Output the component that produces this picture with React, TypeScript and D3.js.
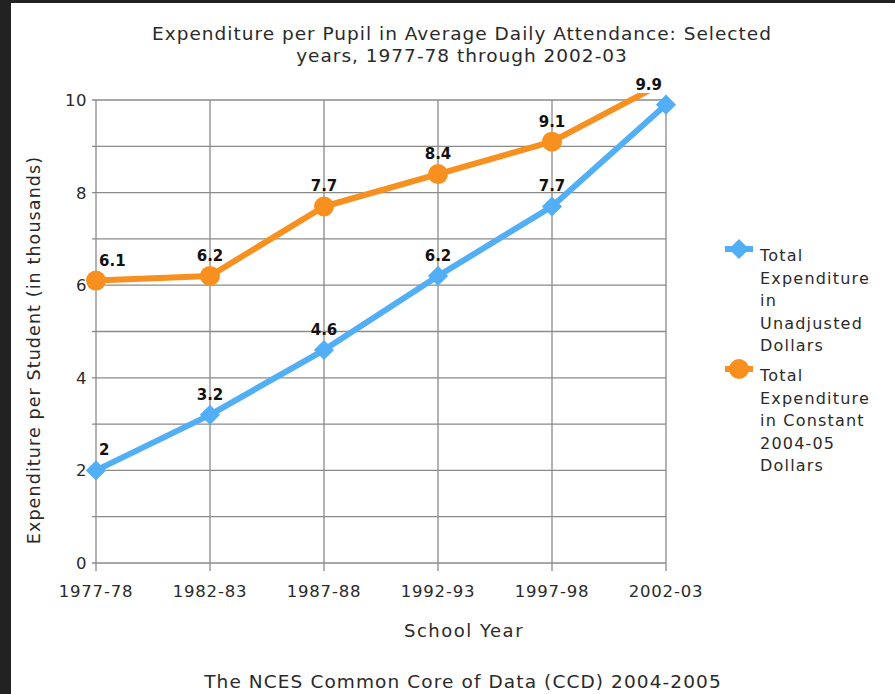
import React, { useEffect } from "react";
import * as d3 from "d3";

const categories = ["1977-78", "1982-83", "1987-88", "1992-93", "1997-98", "2002-03"];
const unadjusted = [2, 3.2, 4.6, 6.2, 7.7, 9.9];
const constant = [6.1, 6.2, 7.7, 8.4, 9.1, 10.4];
const constantLabels = ["6.1", "6.2", "7.7", "8.4", "9.1", ""];
const unadjustedLabels = ["2", "3.2", "4.6", "6.2", "7.7", "9.9"];
const yTickLabels = [0, 2, 4, 6, 8, 10];
const yGrid = [0, 1, 2, 3, 4, 5, 6, 7, 8, 9, 10];
const titleLines = ["Expenditure per Pupil in Average Daily Attendance: Selected", "years, 1977-78 through 2002-03"];
const legendBlue = ["Total", "Expenditure", "in", "Unadjusted", "Dollars"];
const legendOrange = ["Total", "Expenditure", "in Constant", "2004-05", "Dollars"];

const W = 895, H = 694;
const BLUE = "#52aff5";
const ORANGE = "#f7901e";
const FONT = "'DejaVu Sans', sans-serif";
const TXT = "#2a2a2a";

export default function App() {
  useEffect(() => { document.body.style.margin = "0"; }, []);
  const x = d3.scalePoint<string>().domain(categories).range([96, 666]);
  const y = d3.scaleLinear().domain([0, 10]).range([563, 100]);
  const line = d3.line<number>().x((_, i) => x(categories[i])!).y(d => y(d));
  const diamond = d3.symbol().type(d3.symbolDiamond2).size(260);
  const last = categories.length - 1;
  const labelX = (i: number) => i === 0 ? x(categories[i])! + 3 : i === last ? x(categories[i])! - 4 : x(categories[i])!;
  const anchor = (i: number) => i === 0 ? "start" : i === last ? "end" : "middle";

  return (
    <svg width={W} height={H} style={{ display: "block" }} fontFamily={FONT}>
      <rect x={0} y={0} width={W} height={H} fill="#222" />
      <rect x={11} y={3} width={W - 11} height={H - 3} fill="#fff" />
      <defs>
        <clipPath id="plotclip"><rect x={0} y={93} width={W} height={H} /></clipPath>
      </defs>
      {titleLines.map((t, i) => (
        <text key={t} x={462} y={40 + i * 22} textAnchor="middle" fontSize={18.5} letterSpacing={1} fill={TXT}>{t}</text>
      ))}
      {/* grid */}
      {yGrid.map(v => (
        <line key={"h" + v} x1={92} x2={666} y1={y(v)} y2={y(v)} stroke="#8a8a8a" strokeWidth={1.3} />
      ))}
      {categories.map(c => (
        <line key={"v" + c} x1={x(c)} x2={x(c)} y1={y(10)} y2={y(0) + 8} stroke="#8a8a8a" strokeWidth={1.3} />
      ))}
      {yTickLabels.map(v => (
        <text key={"yt" + v} x={87} y={y(v) + 6} textAnchor="end" fontSize={16.5} letterSpacing={0.5} fill={TXT}>{v}</text>
      ))}
      {categories.map(c => (
        <text key={"xt" + c} x={x(c)} y={597} textAnchor="middle" fontSize={16.5} letterSpacing={0.8} fill={TXT}>{c}</text>
      ))}
      <text x={464} y={637} textAnchor="middle" fontSize={18} letterSpacing={1.5} fill={TXT}>School Year</text>
      <text transform={`translate(40,350) rotate(-90)`} textAnchor="middle" fontSize={17.5} letterSpacing={1.1} fill={TXT}>Expenditure per Student (in thousands)</text>
      <text x={463} y={688} textAnchor="middle" fontSize={18.5} letterSpacing={1.1} fill={TXT}>The NCES Common Core of Data (CCD) 2004-2005</text>
      {/* series */}
      <g clipPath="url(#plotclip)">
        <path d={line(constant)!} fill="none" stroke={ORANGE} strokeWidth={6} strokeLinejoin="round" />
        {constant.map((v, i) => i < last ? (
          <circle key={"oc" + i} cx={x(categories[i])} cy={y(v)} r={10} fill={ORANGE} />
        ) : null)}
        <path d={line(unadjusted)!} fill="none" stroke={BLUE} strokeWidth={6} strokeLinejoin="round" />
        {unadjusted.map((v, i) => (
          <path key={"bd" + i} d={diamond()!} transform={`translate(${x(categories[i])},${y(v)})`} fill={BLUE} />
        ))}
      </g>
      {constant.map((v, i) => constantLabels[i] ? (
        <text key={"ol" + i} x={labelX(i)} y={y(v) - 15} textAnchor={anchor(i)} fontSize={15} fontWeight="bold" fill="#111">{constantLabels[i]}</text>
      ) : null)}
      {unadjusted.map((v, i) => (
        <text key={"bl" + i} x={labelX(i)} y={y(v) - 15} textAnchor={anchor(i)} fontSize={15} fontWeight="bold" fill="#111">{unadjustedLabels[i]}</text>
      ))}
      {/* legend */}
      <line x1={725} x2={753} y1={249} y2={249} stroke={BLUE} strokeWidth={6} />
      <path d={diamond()!} transform="translate(739,249)" fill={BLUE} />
      {legendBlue.map((t, i) => (
        <text key={"lb" + i} x={760} y={261 + i * 22.5} fontSize={16} letterSpacing={1.2} fill={TXT}>{t}</text>
      ))}
      <line x1={725} x2={753} y1={369} y2={369} stroke={ORANGE} strokeWidth={6} />
      <circle cx={739} cy={369} r={10} fill={ORANGE} />
      {legendOrange.map((t, i) => (
        <text key={"lo" + i} x={760} y={381 + i * 22.5} fontSize={16} letterSpacing={1.2} fill={TXT}>{t}</text>
      ))}
    </svg>
  );
}
